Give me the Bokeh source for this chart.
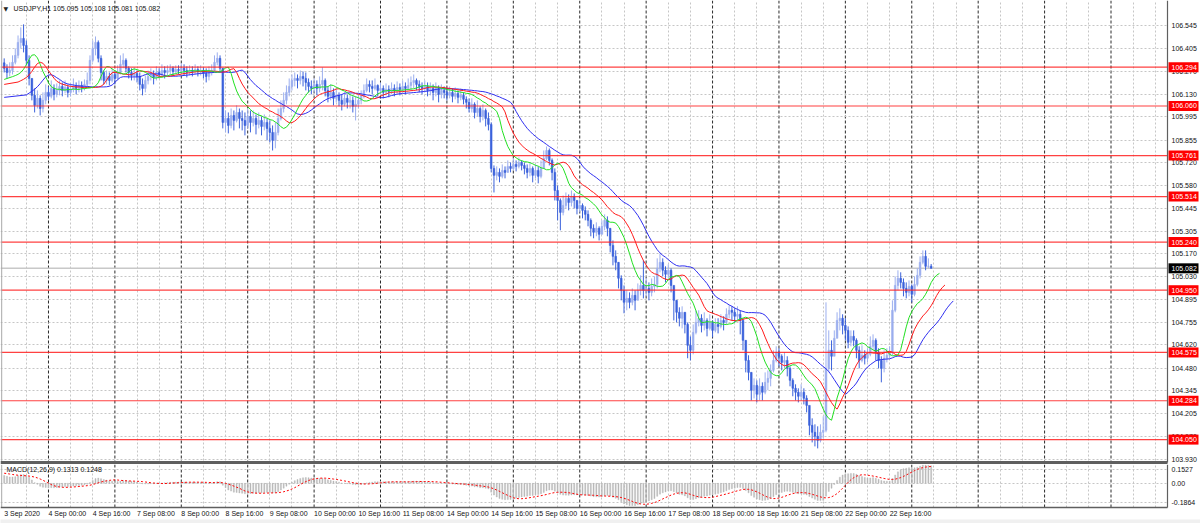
import numpy as np
from bokeh.plotting import figure
from bokeh.layouts import column
from bokeh.models import (ColumnDataSource, FixedTicker, Span, Range1d, Grid)
from bokeh.core.properties import value
from bokeh.embed import file_html
from bokeh.resources import INLINE

FONT = "Liberation Sans"
FS = "7px"

# ---------------- data (USDJPY H1, from 3 Sep 2020 08:00) ----------------
first_open = 106.320
close = [
    106.287, 106.262, 106.274, 106.323, 106.365, 106.443, 106.467, 106.425, 106.335, 106.226,
    106.124, 106.064, 106.106, 106.045, 106.094, 106.142, 106.118, 106.166, 106.130, 106.154,
    106.178, 106.154, 106.172, 106.142, 106.160, 106.178, 106.166, 106.184, 106.172, 106.190,
    106.214, 106.335, 106.407, 106.443, 106.347, 106.262, 106.214, 106.238, 106.214, 106.250,
    106.226, 106.262, 106.311, 106.335, 106.287, 106.262, 106.244, 106.256, 106.238, 106.190,
    106.166, 106.214, 106.238, 106.250, 106.232, 106.262, 106.250, 106.274, 106.262, 106.274,
    106.287, 106.268, 106.280, 106.274, 106.287, 106.274, 106.262, 106.274, 106.268, 106.280,
    106.268, 106.274, 106.256, 106.238, 106.262, 106.274, 106.323, 106.347, 106.287, 105.961,
    105.985, 105.943, 106.003, 105.973, 106.021, 105.985, 105.973, 105.943, 105.997, 105.961,
    105.985, 105.949, 105.973, 105.937, 105.961, 105.925, 105.901, 105.853, 105.901, 105.985,
    106.045, 106.094, 106.142, 106.178, 106.214, 106.226, 106.214, 106.238, 106.226, 106.202,
    106.178, 106.166, 106.190, 106.166, 106.190, 106.214, 106.154, 106.118, 106.142, 106.106,
    106.124, 106.094, 106.070, 106.106, 106.082, 106.094, 106.058, 106.070, 106.094, 106.118,
    106.154, 106.190, 106.178, 106.166, 106.184, 106.154, 106.166, 106.142, 106.160, 106.148,
    106.166, 106.154, 106.172, 106.160, 106.178, 106.166, 106.184, 106.202, 106.214, 106.190,
    106.178, 106.166, 106.178, 106.154, 106.166, 106.142, 106.166, 106.130, 106.154, 106.142,
    106.124, 106.142, 106.118, 106.136, 106.112, 106.124, 106.100, 106.082, 106.045, 106.070,
    106.021, 106.045, 105.997, 106.033, 105.985, 105.949, 105.684, 105.642, 105.660, 105.636,
    105.672, 105.660, 105.696, 105.684, 105.708, 105.696, 105.720, 105.702, 105.684, 105.660,
    105.684, 105.642, 105.672, 105.636, 105.684, 105.744, 105.792, 105.732, 105.660, 105.551,
    105.491, 105.419, 105.461, 105.503, 105.479, 105.515, 105.491, 105.443, 105.461, 105.431,
    105.407, 105.371, 105.323, 105.299, 105.323, 105.287, 105.335, 105.371, 105.323, 105.220,
    105.154, 105.118, 105.022, 104.949, 104.877, 104.901, 104.877, 104.919, 104.889, 104.949,
    104.979, 104.949, 104.961, 104.937, 104.973, 104.985, 105.082, 105.118, 105.070, 105.046,
    105.070, 104.979, 104.889, 104.817, 104.781, 104.817, 104.744, 104.618, 104.588, 104.696,
    104.756, 104.781, 104.738, 104.768, 104.720, 104.756, 104.708, 104.744, 104.732, 104.768,
    104.756, 104.805, 104.829, 104.817, 104.793, 104.805, 104.768, 104.648, 104.527, 104.455,
    104.347, 104.377, 104.323, 104.371, 104.335, 104.395, 104.419, 104.467, 104.527, 104.576,
    104.552, 104.515, 104.527, 104.479, 104.407, 104.359, 104.335, 104.311, 104.335, 104.299,
    104.256, 104.136, 104.094, 104.070, 104.045, 104.094, 104.106, 104.479, 104.588, 104.552,
    104.660, 104.768, 104.781, 104.738, 104.708, 104.636, 104.672, 104.648, 104.588, 104.527,
    104.558, 104.540, 104.564, 104.612, 104.648, 104.576, 104.527, 104.479, 104.540, 104.558,
    104.576, 104.829, 104.979, 105.022, 104.997, 104.961, 104.937, 104.973, 104.925, 104.985,
    105.040, 105.118, 105.154, 105.094, 105.095, 105.082,
]
high = [
    106.347, 106.311, 106.323, 106.365, 106.407, 106.485, 106.534, 106.552, 106.455, 106.365,
    106.226, 106.166, 106.154, 106.124, 106.142, 106.190, 106.178, 106.214, 106.190, 106.196,
    106.214, 106.202, 106.214, 106.190, 106.196, 106.226, 106.202, 106.214, 106.208, 106.220,
    106.262, 106.365, 106.455, 106.479, 106.455, 106.365, 106.274, 106.274, 106.262, 106.287,
    106.262, 106.305, 106.365, 106.377, 106.347, 106.299, 106.287, 106.293, 106.274, 106.262,
    106.226, 106.244, 106.274, 106.287, 106.274, 106.299, 106.287, 106.311, 106.299, 106.305,
    106.311, 106.299, 106.305, 106.305, 106.317, 106.311, 106.299, 106.305, 106.299, 106.311,
    106.299, 106.305, 106.293, 106.287, 106.299, 106.311, 106.365, 106.383, 106.365, 106.287,
    106.033, 106.021, 106.045, 106.033, 106.064, 106.045, 106.033, 106.021, 106.045, 106.033,
    106.033, 106.009, 106.021, 105.997, 106.009, 105.985, 105.973, 105.943, 105.961, 106.045,
    106.094, 106.142, 106.184, 106.226, 106.250, 106.262, 106.250, 106.274, 106.268, 106.262,
    106.226, 106.214, 106.226, 106.214, 106.238, 106.293, 106.226, 106.178, 106.190, 106.166,
    106.166, 106.142, 106.130, 106.142, 106.130, 106.130, 106.118, 106.118, 106.130, 106.154,
    106.190, 106.226, 106.214, 106.214, 106.226, 106.190, 106.202, 106.184, 106.196, 106.184,
    106.202, 106.190, 106.208, 106.196, 106.214, 106.202, 106.226, 106.238, 106.250, 106.226,
    106.214, 106.202, 106.214, 106.202, 106.202, 106.190, 106.202, 106.184, 106.190, 106.178,
    106.166, 106.178, 106.166, 106.172, 106.154, 106.166, 106.142, 106.118, 106.106, 106.106,
    106.082, 106.094, 106.058, 106.070, 106.045, 106.021, 105.961, 105.702, 105.696, 105.684,
    105.708, 105.696, 105.732, 105.720, 105.744, 105.732, 105.750, 105.732, 105.720, 105.708,
    105.720, 105.696, 105.708, 105.696, 105.732, 105.792, 105.816, 105.804, 105.744, 105.684,
    105.581, 105.503, 105.521, 105.539, 105.527, 105.551, 105.533, 105.491, 105.503, 105.473,
    105.455, 105.431, 105.383, 105.347, 105.359, 105.335, 105.371, 105.407, 105.395, 105.323,
    105.250, 105.190, 105.118, 105.040, 104.979, 104.949, 104.937, 104.961, 104.949, 104.991,
    105.040, 105.130, 105.021, 104.997, 105.021, 105.033, 105.142, 105.172, 105.142, 105.094,
    105.106, 105.082, 104.973, 104.889, 104.847, 104.853, 104.817, 104.756, 104.672, 104.744,
    104.829, 104.829, 104.805, 104.817, 104.781, 104.805, 104.768, 104.781, 104.781, 104.805,
    104.793, 104.841, 104.859, 104.853, 104.841, 104.853, 104.829, 104.781, 104.648, 104.558,
    104.455, 104.419, 104.407, 104.419, 104.395, 104.455, 104.467, 104.503, 104.588, 104.612,
    104.600, 104.564, 104.576, 104.552, 104.491, 104.419, 104.383, 104.359, 104.383, 104.359,
    104.317, 104.226, 104.178, 104.142, 104.130, 104.142, 104.190, 104.877, 104.708, 104.648,
    104.708, 104.817, 104.841, 104.805, 104.781, 104.732, 104.708, 104.708, 104.660, 104.612,
    104.618, 104.588, 104.600, 104.672, 104.684, 104.660, 104.600, 104.552, 104.588, 104.600,
    104.612, 104.889, 105.033, 105.070, 105.058, 105.021, 104.997, 105.009, 104.985, 105.033,
    105.082, 105.154, 105.190, 105.190, 105.142, 105.108,
]
low = [
    106.262, 106.226, 106.238, 106.250, 106.311, 106.347, 106.407, 106.383, 106.305, 106.184,
    106.094, 106.021, 106.045, 106.003, 106.021, 106.070, 106.094, 106.106, 106.094, 106.112,
    106.124, 106.118, 106.136, 106.112, 106.118, 106.142, 106.130, 106.142, 106.142, 106.154,
    106.166, 106.190, 106.323, 106.365, 106.323, 106.214, 106.190, 106.190, 106.184, 106.202,
    106.190, 106.214, 106.250, 106.287, 106.262, 106.226, 106.214, 106.214, 106.202, 106.154,
    106.124, 106.142, 106.190, 106.214, 106.190, 106.214, 106.226, 106.238, 106.226, 106.244,
    106.250, 106.244, 106.256, 106.250, 106.256, 106.244, 106.232, 106.244, 106.238, 106.250,
    106.238, 106.244, 106.226, 106.202, 106.214, 106.244, 106.262, 106.305, 106.262, 105.925,
    105.901, 105.895, 105.925, 105.913, 105.961, 105.925, 105.913, 105.883, 105.925, 105.901,
    105.937, 105.889, 105.925, 105.883, 105.913, 105.853, 105.841, 105.792, 105.805, 105.883,
    105.973, 106.021, 106.070, 106.118, 106.154, 106.178, 106.166, 106.190, 106.178, 106.154,
    106.142, 106.130, 106.142, 106.124, 106.142, 106.154, 106.118, 106.082, 106.094, 106.064,
    106.082, 106.058, 106.033, 106.058, 106.045, 106.045, 106.021, 105.973, 106.045, 106.070,
    106.106, 106.142, 106.142, 106.130, 106.154, 106.118, 106.130, 106.106, 106.124, 106.112,
    106.130, 106.118, 106.136, 106.124, 106.142, 106.130, 106.154, 106.154, 106.166, 106.154,
    106.142, 106.130, 106.142, 106.118, 106.124, 106.094, 106.118, 106.082, 106.106, 106.106,
    106.094, 106.106, 106.082, 106.100, 106.076, 106.094, 106.070, 106.045, 106.021, 106.021,
    105.985, 105.997, 105.961, 105.973, 105.937, 105.913, 105.660, 105.539, 105.612, 105.600,
    105.624, 105.624, 105.660, 105.660, 105.672, 105.666, 105.684, 105.672, 105.648, 105.624,
    105.636, 105.600, 105.624, 105.594, 105.624, 105.684, 105.732, 105.702, 105.612, 105.491,
    105.371, 105.311, 105.401, 105.443, 105.431, 105.455, 105.443, 105.407, 105.419, 105.383,
    105.371, 105.335, 105.275, 105.263, 105.275, 105.250, 105.287, 105.311, 105.275, 105.178,
    105.100, 105.070, 104.961, 104.889, 104.811, 104.829, 104.841, 104.859, 104.829, 104.901,
    104.919, 104.901, 104.913, 104.889, 104.913, 104.937, 104.961, 105.058, 105.034, 104.997,
    105.022, 104.937, 104.768, 104.756, 104.732, 104.720, 104.690, 104.540, 104.527, 104.564,
    104.684, 104.732, 104.696, 104.708, 104.672, 104.708, 104.666, 104.696, 104.690, 104.720,
    104.708, 104.744, 104.781, 104.768, 104.756, 104.768, 104.684, 104.588, 104.455, 104.407,
    104.286, 104.298, 104.274, 104.286, 104.286, 104.323, 104.347, 104.371, 104.455, 104.515,
    104.491, 104.467, 104.479, 104.431, 104.371, 104.311, 104.286, 104.274, 104.286, 104.262,
    104.214, 104.076, 104.033, 104.009, 103.997, 104.033, 104.057, 104.094, 104.455, 104.467,
    104.576, 104.672, 104.708, 104.684, 104.648, 104.600, 104.612, 104.612, 104.540, 104.479,
    104.515, 104.503, 104.515, 104.552, 104.588, 104.527, 104.479, 104.395, 104.455, 104.515,
    104.540, 104.558, 104.817, 104.949, 104.961, 104.913, 104.901, 104.913, 104.877, 104.913,
    104.973, 105.021, 105.106, 105.070, 105.082, 105.081,
]

# Alligator lines at the left edge
jaw_seed, teeth_seed, lips_seed = 106.112, 106.190, 106.220
# MACD state at the left edge (read from the sub-window)
macd_seed, signal_seed = 0.065, 0.080
macd_text = "MACD(12,26,9) 0.1313 0.1248"

level_lines = [106.294, 106.060, 105.761, 105.514, 105.240, 104.950, 104.575, 104.284, 104.050]
price_ticks = [106.545, 106.405, 106.270, 106.130, 105.995, 105.855, 105.720, 105.580,
               105.445, 105.305, 105.170, 105.030, 104.895, 104.755, 104.620, 104.480,
               104.345, 104.205, 104.070, 103.930]
macd_max, macd_min = 0.1527, -0.1864
macd_tick_labels = ["0.1527", "0.00", "-0.1864"]
time_labels = ["3 Sep 2020", "4 Sep 00:00", "4 Sep 16:00", "7 Sep 08:00", "8 Sep 00:00",
               "8 Sep 16:00", "9 Sep 08:00", "10 Sep 00:00", "10 Sep 16:00", "11 Sep 08:00",
               "14 Sep 00:00", "14 Sep 16:00", "15 Sep 08:00", "16 Sep 00:00", "16 Sep 16:00",
               "17 Sep 08:00", "18 Sep 00:00", "18 Sep 16:00", "21 Sep 08:00", "22 Sep 00:00",
               "22 Sep 16:00"]
symbol = "USDJPY,H1"

# ---------------- derived ----------------
n = min(len(close), len(high), len(low))
c = np.array(close[:n]); h = np.array(high[:n]); l = np.array(low[:n])
o = np.concatenate([[first_open], c[:-1]])
idx = np.arange(n)
med = (h + l) / 2.0


def smma(src, period, seed):
    out, prev = [], seed
    for v in src:
        prev = (prev * (period - 1) + v) / period
        out.append(prev)
    return np.array(out)


def ema(src, period, seed):
    k = 2.0 / (period + 1)
    out, prev = [], seed
    for v in src:
        prev = prev + k * (v - prev)
        out.append(prev)
    return np.array(out)


jaw = smma(med, 13, jaw_seed)
teeth = smma(med, 8, teeth_seed)
lips = smma(med, 5, lips_seed)

e12 = ema(c, 12, c[0])
e26 = ema(c, 26, c[0] - macd_seed)
macd = e12 - e26
padded = np.concatenate([np.full(8, signal_seed), macd])
signal = np.convolve(padded, np.ones(9) / 9.0, mode="valid")

# ---------------- geometry (page pixels) ----------------
W = 1200
BAR_PX = 2.767                 # pixels per bar
X0 = -3.7 / BAR_PX             # first bar sits 3.7 px from the left edge
X1 = X0 + W / BAR_PX
BORDER_X = X0 + 1167 / BAR_PX  # price-scale border
LEFT_X = X0 + 1.2 / BAR_PX
MAIN_H = 464
PX_PER_PRICE = 165.97
Y_TOP = 106.545 + 25 / PX_PER_PRICE


def py(ypx):                   # page y -> price
    return Y_TOP - ypx / PX_PER_PRICE


Y_BOT = py(MAIN_H)

# MACD window: max at y=463, min at y=507 (MetaTrader scaling)
M_Y0 = MAIN_H
M_H = 523 - MAIN_H
PX_PER_MACD = (507 - 463) / (macd_max - macd_min)


def my(ypx):                   # page y -> MACD value
    return macd_max - (ypx - 463) / PX_PER_MACD


M_TOP, M_BOT = my(M_Y0), my(523)

sep_bars = list(range(16, 417, 24))
grid_bars = [b for b in range(8, 417, 8) if b not in sep_bars]

GRID_C = "#c6c6c6"
SEP_C = "#2a2a2a"
BORDER_C = "#5f5f5f"
BULL = "#9cafef"
BEAR = "#3b62db"
TXT = "#111111"

xr = Range1d(X0, X1)


def common(fig):
    fig.background_fill_color = "white"
    fig.border_fill_color = "white"
    fig.outline_line_color = None
    fig.grid.grid_line_color = None
    fig.add_layout(Grid(dimension=0, ticker=FixedTicker(ticks=grid_bars),
                        grid_line_color=GRID_C, grid_line_dash="2 2"))
    for b in sep_bars:
        fig.add_layout(Span(location=b, dimension="height", line_color=SEP_C,
                            line_dash="3 2", line_width=1, level="underlay"))


def tf(**kw):
    base = dict(text_font=value(FONT), text_font_size=value(FS), text_baseline="middle")
    base.update(kw)
    return base


# ---------------- main window ----------------
p = figure(width=W, height=MAIN_H, x_range=xr, y_range=Range1d(Y_BOT, Y_TOP),
           output_backend="svg", toolbar_location=None, x_axis_location=None,
           y_axis_location=None, min_border_left=0, min_border_right=0,
           min_border_top=0, min_border_bottom=0)
common(p)
p.add_layout(Grid(dimension=1, ticker=FixedTicker(ticks=price_ticks),
                  grid_line_color=GRID_C, grid_line_dash="2 2"))

# current price line
p.segment(x0=[X0], y0=[c[-1]], x1=[BORDER_X], y1=[c[-1]], line_color="#c8c8c8", line_width=1.6)

# candles
up = c >= o
for mask, col in ((up, BULL), (~up, BEAR)):
    src = ColumnDataSource(dict(x=idx[mask], hi=h[mask], lo=l[mask],
                                top=np.maximum(o, c)[mask], bot=np.minimum(o, c)[mask]))
    p.segment("x", "hi", "x", "lo", source=src, line_color=col, line_width=1)
    p.vbar(x="x", width=0.6, top="top", bottom="bot", source=src,
           fill_color=col, line_color=col, line_width=0.6)

# alligator
p.line(np.concatenate([[0], idx + 8]), np.concatenate([[jaw_seed], jaw]),
       line_color="#2f2ff0", line_width=1)
p.line(np.concatenate([[0], idx + 5]), np.concatenate([[teeth_seed], teeth]),
       line_color="#ff1a1a", line_width=1)
p.line(np.concatenate([[0], idx + 3]), np.concatenate([[lips_seed], lips]),
       line_color="#22e022", line_width=1)

# horizontal levels
nl = len(level_lines)
p.segment(x0=[X0] * nl, y0=level_lines, x1=[BORDER_X] * nl, y1=level_lines,
          line_color="#ff2020", line_width=1.2, line_alpha=0.85)

# price scale area (drawn inside the frame)
p.quad(left=[BORDER_X], right=[X1 + 1], bottom=[Y_BOT - 1], top=[Y_TOP + 1],
       fill_color="white", line_color=None)
p.text(x=[BORDER_X] * len(price_ticks), y=price_ticks,
       text=[f"{t:.3f}" for t in price_ticks], x_offset=4, text_color=TXT, **tf())
box_l = BORDER_X + 1.0 / BAR_PX
box_r = BORDER_X + 31.0 / BAR_PX
half_h = 5.0 / PX_PER_PRICE
p.quad(left=[box_l] * nl, right=[box_r] * nl,
       bottom=[v - half_h for v in level_lines], top=[v + half_h for v in level_lines],
       fill_color="#ff0000", line_color=None)
p.text(x=[BORDER_X] * nl, y=level_lines, text=[f"{v:.3f}" for v in level_lines],
       x_offset=4, text_color="white", **tf())
p.quad(left=[box_l], right=[box_r], bottom=[c[-1] - half_h], top=[c[-1] + half_h],
       fill_color="#000000", line_color=None)
p.text(x=[BORDER_X], y=[c[-1]], text=[f"{c[-1]:.3f}"], x_offset=4, text_color="white", **tf())

# borders
p.segment(x0=[BORDER_X], y0=[py(462)], x1=[BORDER_X], y1=[Y_TOP], line_color=BORDER_C, line_width=1.2)
p.segment(x0=[LEFT_X], y0=[py(462)], x1=[LEFT_X], y1=[Y_TOP], line_color="#a8a8a8", line_width=1)
p.segment(x0=[X0], y0=[py(462)], x1=[BORDER_X], y1=[py(462)], line_color=BORDER_C, line_width=3)

# header
top_y = py(8)
p.text(x=[X0], y=[top_y], text=["\u25bc"], x_offset=3, text_color="#222222",
       text_font=value("DejaVu Sans"), text_font_size=value("6px"), text_baseline="middle")
header = f"{symbol}  {o[-1]:.3f} {h[-1]:.3f} {l[-1]:.3f} {c[-1]:.3f}"
p.text(x=[X0], y=[top_y], text=[header], x_offset=13, text_color=TXT, **tf())

# ---------------- MACD window ----------------
m = figure(width=W, height=M_H, x_range=xr, y_range=Range1d(M_BOT, M_TOP),
           output_backend="svg", toolbar_location=None, x_axis_location=None,
           y_axis_location=None, min_border_left=0, min_border_right=0,
           min_border_top=0, min_border_bottom=0)
common(m)
label_ys = [my(469), 0.0, my(502)]
m.add_layout(Grid(dimension=1, ticker=FixedTicker(ticks=label_ys),
                  grid_line_color=GRID_C, grid_line_dash="2 2"))

m.vbar(x=idx, width=0.38, top=macd, bottom=0, fill_color="#b8b8b8", line_color="#b8b8b8",
       line_width=0.4)
m.line(idx, signal, line_color="#ff0000", line_width=1, line_dash="2 2")

# price-scale area and time-scale strip
m.quad(left=[BORDER_X], right=[X1 + 1], bottom=[M_BOT - 1], top=[M_TOP + 1],
       fill_color="white", line_color=None)
m.quad(left=[X0 - 1], right=[X1 + 1], bottom=[M_BOT - 1], top=[my(507)],
       fill_color="white", line_color=None)
m.quad(left=[X0 - 1], right=[X1 + 1], bottom=[M_BOT - 1], top=[my(519)],
       fill_color="#f0f0f0", line_color=None)
m.text(x=[BORDER_X] * 3, y=label_ys, text=macd_tick_labels, x_offset=4, text_color=TXT, **tf())
m.segment(x0=[BORDER_X], y0=[my(507)], x1=[BORDER_X], y1=[M_TOP], line_color=BORDER_C, line_width=1.2)
m.segment(x0=[LEFT_X], y0=[my(507)], x1=[LEFT_X], y1=[M_TOP], line_color="#a8a8a8", line_width=1)
m.segment(x0=[X0], y0=[my(507)], x1=[BORDER_X], y1=[my(507)], line_color=BORDER_C, line_width=1.5)
m.text(x=[X0], y=[my(469)], text=[macd_text], x_offset=6, text_color=TXT, **tf())

tick_bars = [16 * k for k in range(len(time_labels))]
m.text(x=tick_bars, y=[my(513)] * len(tick_bars), text=time_labels, x_offset=0,
       text_align="left", text_color=TXT, **tf())

layout = column(p, m, spacing=0)
open("out.html", "w").write(file_html(layout, INLINE))
